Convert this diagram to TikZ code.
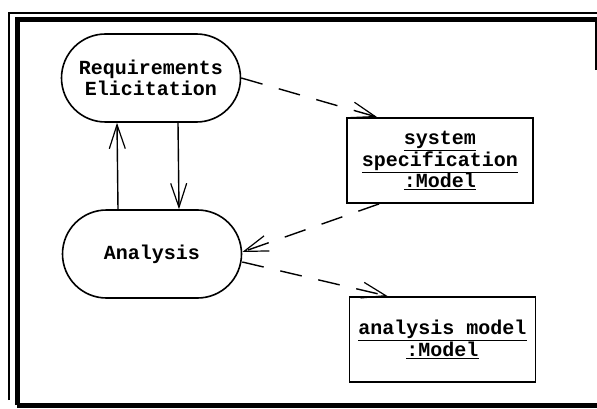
\documentclass[tikz,border=0pt]{standalone}
\usepackage{fontspec}
\setmonofont{Liberation Mono}
\usetikzlibrary{arrows.meta,calc}
\begin{document}
\begin{tikzpicture}[x=1pt,y=-1pt,
  every node/.style={font=\ttfamily\bfseries\fontsize{20}{20.5}\selectfont, align=center, inner sep=0pt},
  activity/.style={draw, line width=1.6pt, minimum width=179pt, minimum height=88pt, rounded corners=44pt},
  artifact/.style={draw, line width=1.8pt, minimum width=186pt, minimum height=85pt},
  flow/.style={line width=1.4pt, -{Straight Barb[length=24pt,width=16pt,line width=1.2pt]}},
  objflow/.style={flow, dash pattern=on 22pt off 17pt}]
\useasboundingbox (0,0) rectangle (597,409);
% frame
\draw[line width=5pt] (17,405) -- (17,20) -- (603,20);
\draw[line width=5pt] (17,405) -- (603,405);
\draw[line width=1.2pt] (9,400) -- (9,13) -- (600,13);
\draw[line width=1.6pt] (596,20) -- (596,70);
% activities
\node[activity] (req) at (151,78) {Requirements\\Elicitation};
\node[activity] (ana) at (152,254) {Analysis};
% object nodes
\node[artifact] (spec) at (440,160.5) {\underline{system}\\\underline{specification}\\\underline{:Model}};
\node[artifact] (amodel) at (442.5,339.5) {\underline{analysis model}\\\underline{:Model}};
% control flow
\draw[flow] ($(ana.north)+(-34,0)$) -- ($(req.south)+(-34,0)$);
\draw[flow] ($(req.south)+(27,0)$) -- ($(ana.north)+(27,0)$);
% object flow
\draw[objflow] (req.east) -- ($(spec.north west)+(31,0)$);
\draw[objflow] ($(spec.south west)+(33,0)$) -- ($(ana.east)+(0,-2)$);
\draw[objflow] ($(ana.east)+(0,8)$) -- ($(amodel.north west)+(39,0)$);
\end{tikzpicture}
\end{document}
